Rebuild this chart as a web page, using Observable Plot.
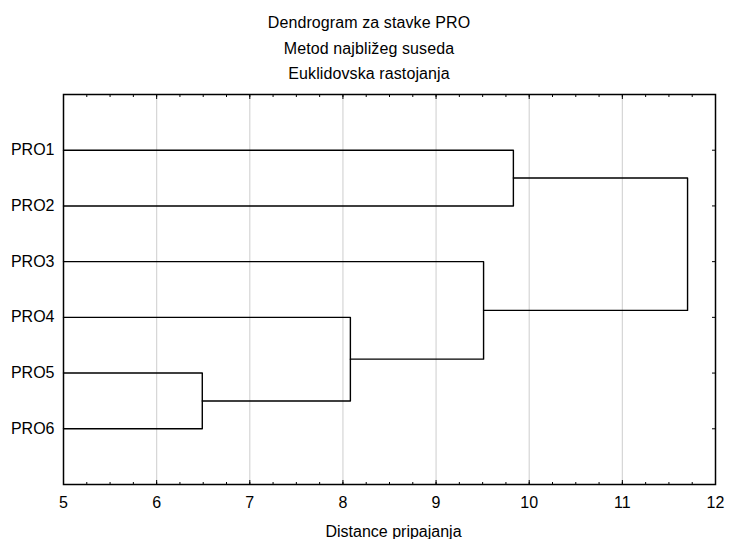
<!DOCTYPE html>
<html><head><meta charset="utf-8">
<script src="https://cdn.jsdelivr.net/npm/d3@7"></script>
<script src="https://cdn.jsdelivr.net/npm/@observablehq/plot@0.6"></script>
<style>
html,body{margin:0;padding:0;background:#fff;}
body{font-family:"Liberation Sans",Arial,sans-serif;width:729px;height:539px;overflow:hidden;}
#titles{height:86px;width:729px;text-align:center;font-size:16px;line-height:25.5px;padding-top:10px;padding-left:9px;box-sizing:border-box;color:#000;letter-spacing:0.1px;}
</style></head><body>
<div id="titles"><div>Dendrogram za stavke PRO</div><div>Metod najbližeg suseda</div><div>Euklidovska rastojanja</div></div>
<div id="chart"></div>
<script>
// Leaves (top to bottom)
const labels = ["PRO1", "PRO2", "PRO3", "PRO4", "PRO5", "PRO6"];
// Agglomeration steps (single linkage, Euclidean)
const mergeNames = ["C1", "C2", "C3", "C4", "C5"];
const mergeLeft = ["PRO5", "PRO4", "PRO3", "PRO1", "C4"];
const mergeRight = ["PRO6", "C1", "C2", "PRO2", "C3"];
const mergeHeights = [6.49, 8.08, 9.51, 9.83, 11.70];
// Axis
const xDomain = [5, 12];
const xMajorTicks = [5, 6, 7, 8, 9, 10, 11, 12];
const xMinorTicks = d3.range(5, 12.001, 0.25);
const xLabel = "Distance pripajanja";

// Build node positions and elbow paths from the arrays above
const pos = {};
labels.forEach((l, i) => { pos[l] = {x: xDomain[0], y: i + 1}; });
const paths = [];
mergeNames.forEach((name, i) => {
  const a = pos[mergeLeft[i]], b = pos[mergeRight[i]], h = mergeHeights[i];
  paths.push({id: name, x: a.x, y: a.y});
  paths.push({id: name, x: h, y: a.y});
  paths.push({id: name, x: h, y: b.y});
  paths.push({id: name, x: b.x, y: b.y});
  pos[name] = {x: h, y: (a.y + b.y) / 2};
});
const leafPos = labels.map((_, i) => i + 1);

const W = 729, H = 453;
const chart = Plot.plot({
  width: W,
  height: H,
  marginTop: 8,
  marginBottom: 55,
  marginLeft: 63,
  marginRight: 14,
  style: {fontFamily: "'Liberation Sans', Arial, sans-serif", fontSize: "16px", color: "black", background: "white", overflow: "visible"},
  x: {domain: xDomain, axis: null},
  y: {domain: [0, labels.length + 1], reverse: true, axis: null},
  marks: [
    Plot.gridX(xMajorTicks.slice(1, -1), {stroke: "#d6d6d6", strokeOpacity: 1, strokeWidth: 1.2}),
    Plot.line(paths, {x: "x", y: "y", z: "id", stroke: "black", strokeWidth: 1.4}),
    // left category labels
    Plot.axisY(leafPos, {anchor: "left", tickSize: 0, tickPadding: 9, fontSize: 16, tickFormat: d => labels[d - 1], label: null}),
    // right inward ticks
    Plot.axisY(leafPos, {anchor: "right", tickSize: 4, dx: -4, fill: "none", label: null, stroke: "black"}),
    // bottom/top major & minor inward ticks
    Plot.axisX(xMajorTicks, {anchor: "bottom", tickSize: 4, dy: -4, fill: "none", label: null, stroke: "black"}),
    Plot.axisX(xMinorTicks, {anchor: "bottom", tickSize: 2, dy: -2, fill: "none", label: null, stroke: "black"}),
    Plot.axisX(xMajorTicks, {anchor: "top", tickSize: 4, dy: 4, fill: "none", label: null, stroke: "black"}),
    Plot.axisX(xMinorTicks, {anchor: "top", tickSize: 2, dy: 2, fill: "none", label: null, stroke: "black"}),
    // bottom tick labels
    Plot.axisX(xMajorTicks, {anchor: "bottom", tickSize: 0, tickPadding: 12, fontSize: 16, tickFormat: d => String(d), label: null}),
    // axis title
    Plot.text([xLabel], {frameAnchor: "bottom", lineAnchor: "top", dy: 41, dx: 4, fontSize: 16, text: d => d, fill: "black", style: "letter-spacing:0.5px"}),
    Plot.frame({stroke: "black", strokeWidth: 1.5})
  ]
});
document.getElementById("chart").appendChild(chart);
</script>
</body></html>
